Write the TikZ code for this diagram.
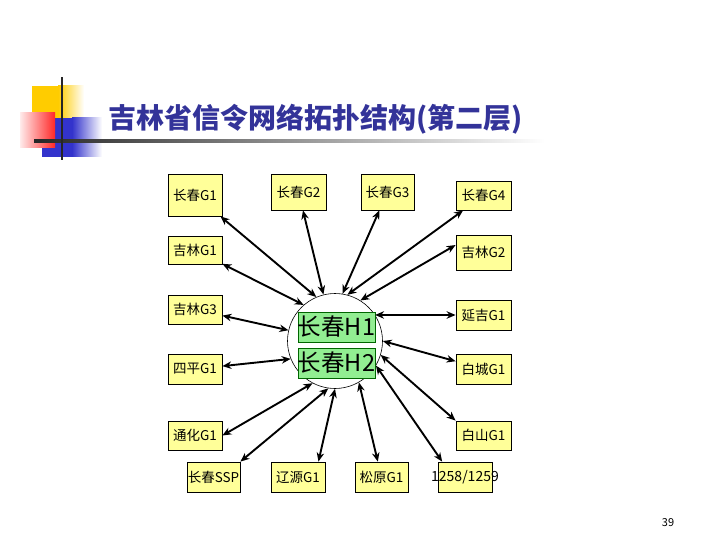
\documentclass[tikz,border=0pt]{standalone}
\usepackage{fontspec}
\setmainfont{Noto Sans CJK SC}
\usetikzlibrary{arrows.meta}
\definecolor{titleblue}{RGB}{51,51,153}
\definecolor{boxyellow}{RGB}{255,255,153}
\definecolor{hubgreen}{RGB}{146,238,146}
\definecolor{decoyellow}{RGB}{255,204,0}
\definecolor{decoblue}{RGB}{51,51,204}
\definecolor{decored}{RGB}{255,40,40}
\tikzstyle{station}=[draw,line width=0.8pt,fill=boxyellow,rectangle,
    minimum width=54pt,minimum height=30pt,inner sep=0pt,
    font=\fontsize{13.5}{15}\selectfont]
\tikzstyle{hub}=[draw,line width=0.6pt,circle,minimum size=95pt,inner sep=0pt]
\tikzstyle{hub box}=[draw=green!40!black,line width=0.4pt,fill=hubgreen,
    minimum width=73pt,minimum height=30pt,inner sep=0pt,
    font=\fontsize{23.5}{26}\selectfont]
\tikzstyle{link}=[line width=1.9pt,{Stealth[length=9pt,width=7.5pt]}-{Stealth[length=9pt,width=7.5pt]}]
\newcommand{\station}[4][]{
    \node[station,#1] at (#2) (#3) {#4};
}
\newcommand{\linkto}[3][]{\draw[link,#1] (#2)--(#3);}

\begin{document}
\begin{tikzpicture}[x=1pt,y=-1pt]
    \useasboundingbox (0,0) rectangle (720,540);
    % title decoration
    \fill[decoyellow] (32,86) rectangle (58,120);
    \shade[left color=decoyellow,right color=white] (58,86) rectangle (84,120);
    \fill[decoblue] (42,118) rectangle (72,157);
    \shade[left color=decoblue,right color=white] (72,118) rectangle (102,157);
    \shade[left color=red!8,right color=decored] (20,113) rectangle (55,148);
    \shade[left color=black!85,right color=white] (34,140) rectangle (545,142.5);
    \fill[black!85] (60.8,77) rectangle (63.3,160);
    \node[anchor=west,text=titleblue,font=\fontsize{28}{31}\selectfont\bfseries]
        (title) at (105,119) {吉林省信令网络拓扑结构(第二层)};

    % hub
    \node[hub] (hub) at (335,341) {};
    \node[hub box] (h1) at (336.5,327) {长春H1};
    \node[hub box] (h2) at (336.5,363) {长春H2};

    % stations
    \station[minimum height=42pt]{195,195}{cg1}{长春G1}
    \station[minimum height=36pt,minimum width=55pt]{298.5,192}{cg2}{长春G2}
    \station[minimum height=36pt,minimum width=53pt]{387.5,192}{cg3}{长春G3}
    \station[minimum height=29pt,minimum width=55pt]{483.5,195.5}{cg4}{长春G4}
    \station[minimum height=28pt]{195,250}{jl1}{吉林G1}
    \station[minimum height=35pt,minimum width=55pt]{483.5,252.5}{jl2}{吉林G2}
    \station[minimum height=29pt]{195,309.5}{jl3}{吉林G3}
    \station{195,369}{sp}{四平G1}
    \station[minimum height=29pt]{195,435.5}{th}{通化G1}
    \station[minimum width=53pt]{213.5,477}{ssp}{长春SSP}
    \station{298,477}{ly}{辽源G1}
    \station[minimum width=53pt]{381.5,477}{sy}{松原G1}
    \station{465,477}{nb}{}
    \node[font=\fontsize{14}{16}\selectfont] (nbtext) at (nb) {1258/1259};
    \station[minimum width=55pt]{483.5,315}{yj}{延吉G1}
    \station[minimum width=55pt]{483.5,369}{bc}{白城G1}
    \station[minimum height=29pt,minimum width=55pt]{483.5,435.5}{bs}{白山G1}

    \linkto{hub.113}{cg1}
    \linkto{hub.131}{jl1}
    \linkto{hub.104}{cg2}
    \linkto{hub.81}{cg3}
    \linkto{hub.75}{cg4}
    \linkto{hub.58}{jl2.165}
    \linkto{hub.33}{yj.west}
    \linkto{hub.167}{jl3}
    \linkto{hub.202}{sp}
    \linkto{hub.0}{bc}
    \linkto{hub.343}{bs.north west}
    \linkto{hub.329}{nb.146}
    \linkto{hub.300}{sy}
    \linkto{hub.270}{ly.37}
    \linkto{hub.262}{ssp.north east}
    \linkto{hub.242}{th.east}

    \node[font=\fontsize{11}{13}\selectfont] (page) at (668,523) {39};
\end{tikzpicture}
\end{document}
